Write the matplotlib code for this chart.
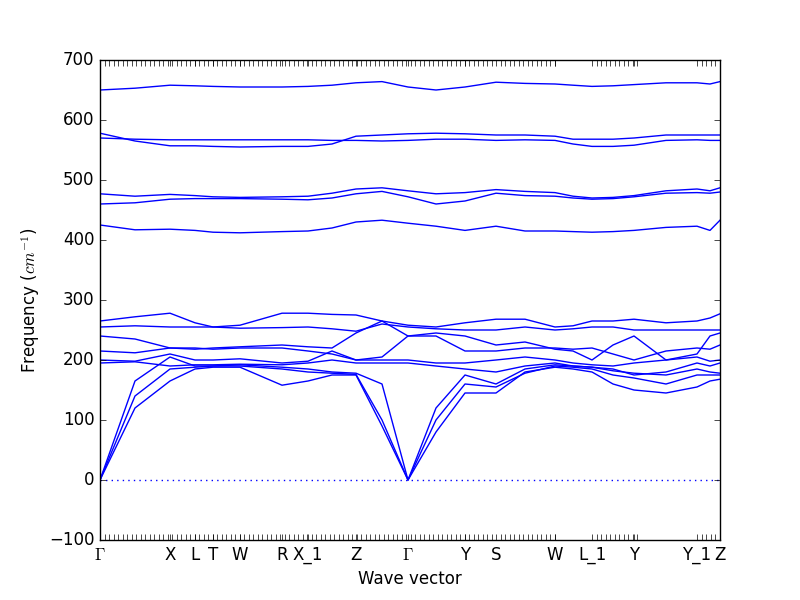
import numpy as np
import matplotlib
matplotlib.use("Agg")
import matplotlib.pyplot as plt

plt.style.use("classic")

# path distance of sampled k-points and of labelled points
kdist = [0, 35, 70, 95, 113, 140, 182, 208, 232, 256, 282, 308, 336, 365,
         396, 425, 455, 473, 492, 513, 534, 566, 597, 610, 620]
label_pos = [0, 70, 95, 113, 140, 182, 208, 256, 308, 365, 396, 455, 492,
             534, 597, 620]
label_txt = [r"$\Gamma$", "X", "L", "T", "W", "R", "X_1", "Z", r"$\Gamma$",
             "Y", "S", "W", "L_1", "Y", "Y_1", "Z"]

bands = [
    [0, 120, 165, 185, 188, 188, 158, 165, 175, 175, 90, 0, 80, 145, 145, 180, 188, 185, 180, 160, 150, 145, 155, 165, 168],
    [0, 140, 185, 188, 190, 190, 185, 180, 178, 176, 100, 0, 100, 160, 155, 178, 190, 188, 185, 175, 170, 160, 175, 175, 175],
    [0, 165, 205, 190, 190, 192, 188, 185, 180, 178, 160, 0, 120, 175, 160, 185, 192, 190, 188, 182, 178, 175, 185, 180, 178],
    [195, 197, 190, 192, 192, 193, 192, 195, 200, 195, 195, 195, 190, 185, 180, 190, 195, 190, 188, 185, 175, 180, 195, 190, 195],
    [200, 198, 210, 200, 200, 202, 195, 198, 215, 200, 200, 200, 195, 195, 200, 205, 200, 195, 192, 190, 195, 200, 205, 198, 200],
    [215, 212, 220, 220, 218, 220, 220, 215, 210, 200, 205, 240, 240, 215, 215, 220, 220, 218, 220, 210, 200, 215, 220, 218, 225],
    [240, 235, 220, 218, 220, 222, 225, 222, 220, 245, 265, 240, 245, 240, 225, 230, 218, 215, 200, 225, 240, 200, 210, 240, 245],
    [255, 257, 255, 255, 255, 253, 254, 255, 252, 248, 260, 255, 252, 250, 250, 255, 250, 252, 255, 255, 250, 250, 250, 250, 250],
    [265, 272, 278, 262, 255, 258, 278, 278, 276, 275, 265, 258, 255, 262, 268, 268, 255, 257, 265, 265, 268, 262, 265, 270, 277],
    [425, 417, 418, 416, 413, 412, 414, 415, 420, 430, 433, 428, 423, 416, 423, 415, 415, 414, 413, 414, 416, 421, 423, 416, 433],
    [460, 462, 468, 469, 469, 469, 468, 467, 470, 477, 481, 472, 460, 465, 478, 474, 473, 470, 468, 469, 472, 478, 479, 478, 480],
    [477, 473, 476, 474, 472, 471, 472, 473, 478, 485, 487, 482, 477, 479, 484, 481, 479, 473, 470, 471, 474, 482, 485, 482, 487],
    [570, 568, 567, 567, 567, 567, 567, 567, 566, 566, 565, 566, 568, 568, 566, 567, 566, 560, 556, 556, 558, 566, 567, 566, 566],
    [578, 565, 557, 557, 556, 555, 556, 556, 560, 573, 575, 577, 578, 577, 575, 575, 573, 568, 568, 568, 570, 575, 575, 575, 575],
    [650, 653, 658, 657, 656, 655, 655, 656, 658, 662, 664, 655, 650, 655, 663, 661, 660, 658, 656, 657, 659, 662, 662, 660, 664],
]

fig, ax = plt.subplots(figsize=(8, 6), dpi=100)
fig.patch.set_facecolor("white")
for b in bands:
    ax.plot(kdist, b, color="b", lw=1)
ax.axhline(0, color="b", ls=":", lw=1)

ax.set_xlim(0, 620)
ax.set_ylim(-100, 700)
ax.set_xticks(label_pos)
ax.set_xticklabels(label_txt)
minor = np.concatenate([np.arange(0, 456, 4.5), np.arange(492, 541, 4.5),
                        np.arange(597, 621, 4.5)])
ax.set_xticks(minor, minor=True)
ax.tick_params(axis="x", which="minor", length=4)
ax.set_xlabel("Wave vector")
ax.set_ylabel(r"Frequency ($cm^{-1}$)")

fig.savefig("out.png", dpi=100)
